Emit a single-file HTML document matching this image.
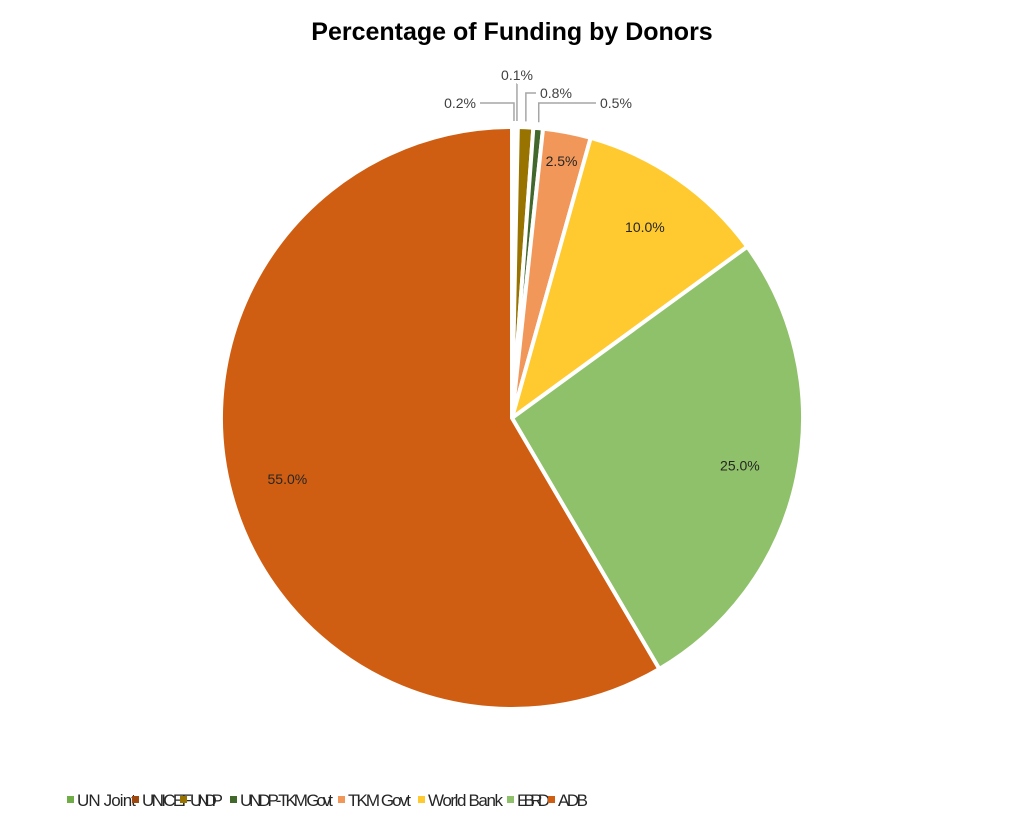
<!DOCTYPE html>
<html><head><meta charset="utf-8"><style>
body{margin:0;background:#fff;}
svg{display:block;font-family:"Liberation Sans",sans-serif;}
</style></head><body>
<svg width="1024" height="830">
<text x="512" y="40" text-anchor="middle" font-size="25" font-weight="bold" fill="#000">Percentage of Funding by Donors</text>
<g id="slices"></g>
<g id="labels"></g>
<g id="legend"></g>
</svg>
<script>
const categories=["UN Joint","UNICEF","UNDP","UNDP-TKM Govt","TKM Govt","World Bank","EBRD","ADB"];
const values=[0.2,0.1,0.8,0.5,2.5,10.0,25.0,55.0];
const colors=["#70ad47","#9e480e","#997300","#43682b","#f1975a","#ffca2f","#8fc16a","#d05e12"];
const cx=512,cy=418,R=291;
const NS="http://www.w3.org/2000/svg";
const total=values.reduce((a,b)=>a+b,0);
function pt(a,r){return [cx+r*Math.sin(a),cy-r*Math.cos(a)];}
const gS=document.getElementById('slices'),gL=document.getElementById('labels'),gG=document.getElementById('legend');
// layout for small outside labels (pixel anchors), by slice index
const outside={0:[476,108,"end"],1:[517,80,"middle"],2:[540,98,"start"],3:[600,108,"start"]};
let acc=0;
values.forEach((v,i)=>{
  const a0=acc/total*2*Math.PI;acc+=v;const a1=acc/total*2*Math.PI;
  const p0=pt(a0,R),p1=pt(a1,R);const large=(a1-a0)>Math.PI?1:0;
  const p=document.createElementNS(NS,'path');
  p.setAttribute('d',`M${cx},${cy}L${p0[0]},${p0[1]}A${R},${R} 0 ${large} 1 ${p1[0]},${p1[1]}Z`);
  p.setAttribute('fill',colors[i]);p.setAttribute('stroke','#fff');p.setAttribute('stroke-width','4');
  
  
  gS.appendChild(p);
  const am=(a0+a1)/2;const txt=v.toFixed(1)+'%';
  const t=document.createElementNS(NS,'text');
  t.setAttribute('font-size','14');t.setAttribute('fill','#404040');
  if(outside[i]){
    const o=outside[i];const e=pt(am,R+6);
    const ln=document.createElementNS(NS,'polyline');
    const lx=o[2]==="end"?o[0]+4:(o[2]==="start"?o[0]-4:o[0]);const ly=o[2]==="middle"?o[1]+4:o[1]-5;
    ln.setAttribute('points',`${lx},${ly} ${e[0]},${ly} ${e[0]},${e[1]}`);
    ln.setAttribute('fill','none');ln.setAttribute('stroke','#a6a6a6');ln.setAttribute('stroke-width','1.5');
    
    
    gL.appendChild(ln);
    t.setAttribute('x',o[0]);t.setAttribute('y',o[1]);t.setAttribute('text-anchor',o[2]);
  } else {
    const fr=v<5?0.9:0.8;const q=pt(am,R*fr);
    t.setAttribute('x',q[0]);t.setAttribute('y',q[1]+5);t.setAttribute('text-anchor','middle');
    t.setAttribute('fill','#262626');
  }
  t.textContent=txt;
  
  
  gL.appendChild(t);
});
const legX=[67,132,180,230,338,418,507,548];
categories.forEach((c,i)=>{
  const g=document.createElementNS(NS,'g');
  
  
  const r=document.createElementNS(NS,'rect');
  r.setAttribute('x',legX[i]);r.setAttribute('y',796);r.setAttribute('width',7);r.setAttribute('height',7);r.setAttribute('fill',colors[i]);
  
  
  const t=document.createElementNS(NS,'text');
  t.setAttribute('x',legX[i]+10);t.setAttribute('y',806);t.setAttribute('font-size','17');t.setAttribute('fill','#262626');
  t.setAttribute('textLength',[59,50,33,93,63,75,33,30][i]);
  t.textContent=c;
  
  
  g.appendChild(r);g.appendChild(t);gG.appendChild(g);
});
</script>
</body></html>
